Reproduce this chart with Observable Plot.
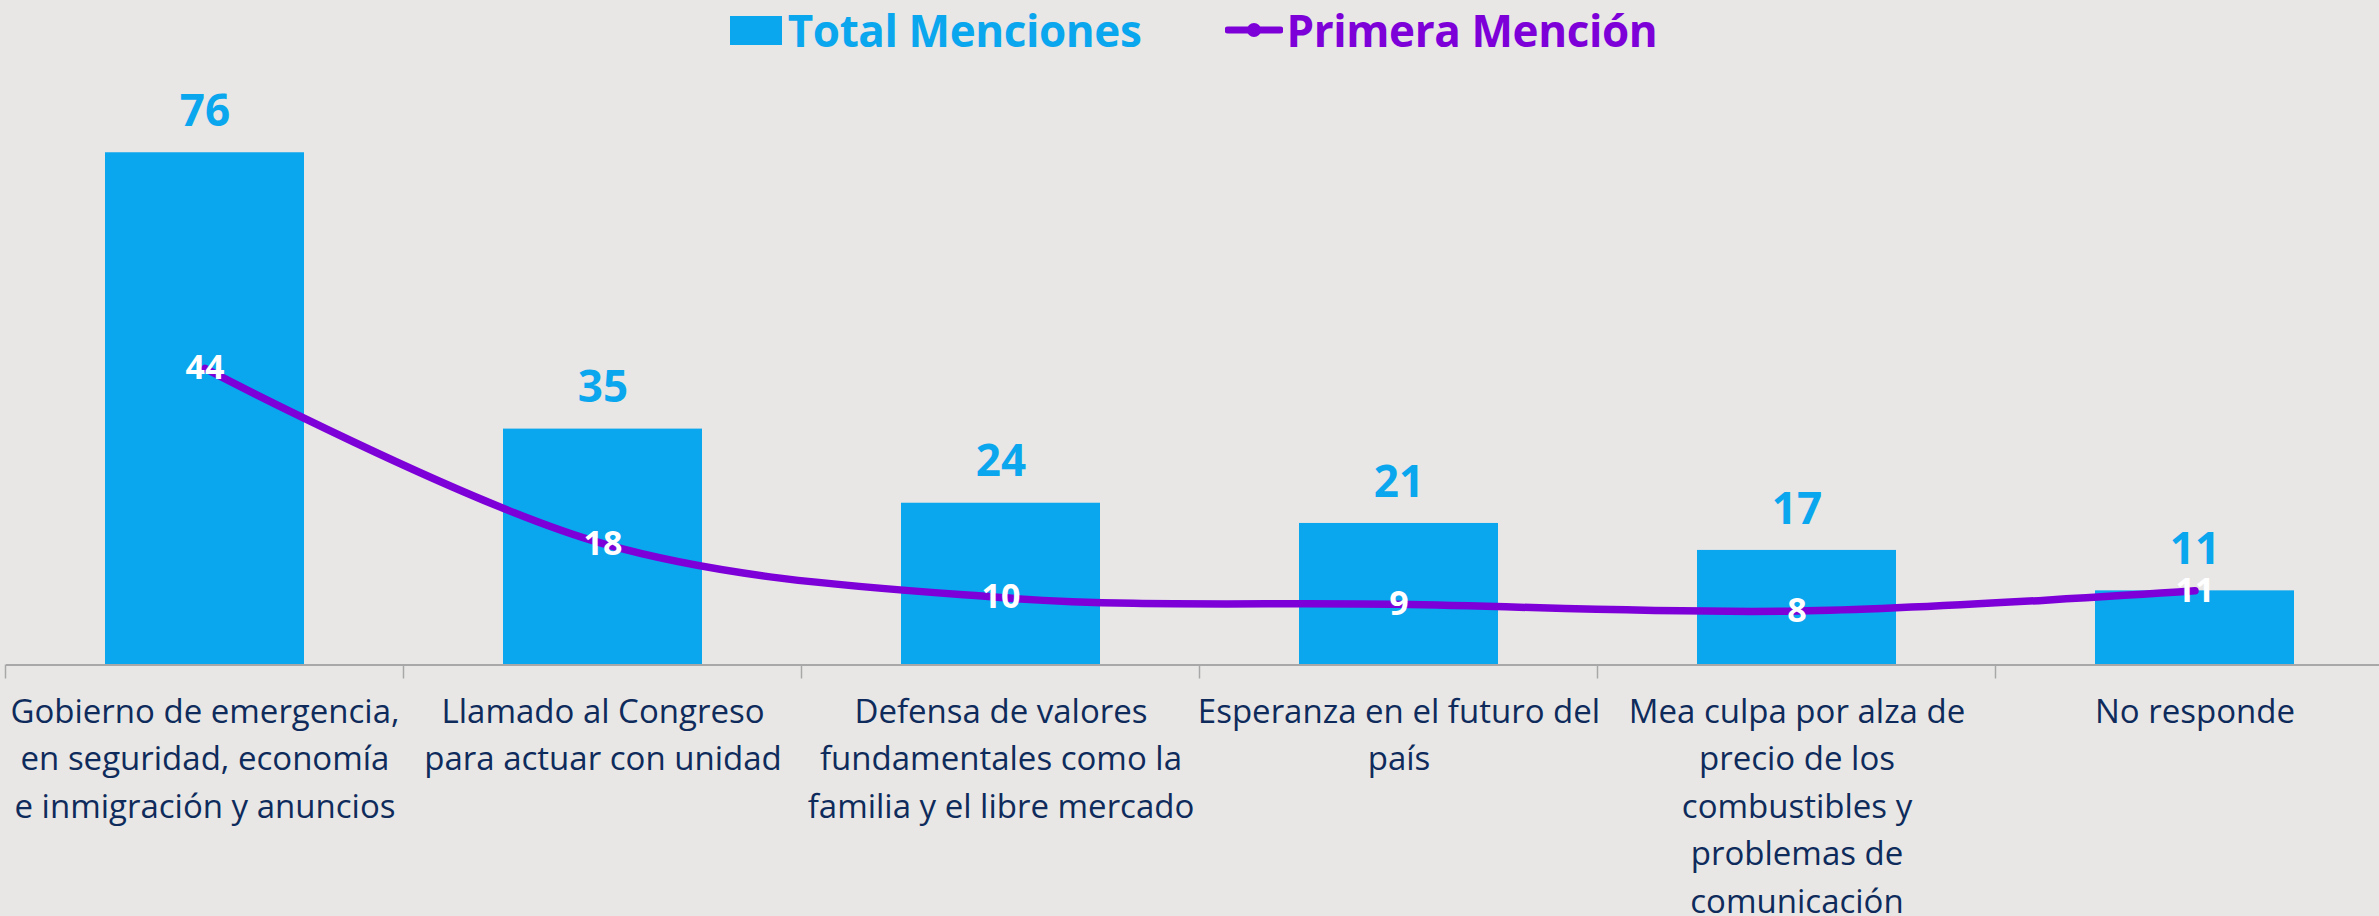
<!DOCTYPE html>
<html>
<head>
<meta charset="utf-8">
<script src="https://cdn.jsdelivr.net/npm/d3@7"></script>
<script src="https://cdn.jsdelivr.net/npm/@observablehq/plot@0.6"></script>
<style>
  html, body { margin: 0; padding: 0; background: #E8E7E5; }
  body { width: 2379px; height: 916px; overflow: hidden; font-family: "Open Sans", "Noto Sans", sans-serif; }
  #legend { height: 60px; display: flex; justify-content: center; align-items: center; gap: 84px; padding-left: 8px; box-sizing: border-box; }
  .item { display: flex; align-items: center; font-weight: 700; font-size: 44px; letter-spacing: -0.4px; }
  .item svg { display: block; }
</style>
</head>
<body>
<div id="legend"></div>
<div id="chart"></div>
<script>
const categories = [
  "Gobierno de emergencia,\nen seguridad, economía\ne inmigración y anuncios",
  "Llamado al Congreso\npara actuar con unidad",
  "Defensa de valores\nfundamentales como la\nfamilia y el libre mercado",
  "Esperanza en el futuro del\npaís",
  "Mea culpa por alza de\nprecio de los\ncombustibles y\nproblemas de\ncomunicación",
  "No responde"
];
const totalMenciones = [76, 35, 24, 21, 17, 11];
const primeraMencion = [44, 18, 10, 9, 8, 11];
const seriesNames = ["Total Menciones", "Primera Mención"];

const BLUE = "#0AA6EE";
const PURPLE = "#7D00D9";
const NAVY = "#0E2B5C";
const AXIS = "#A8A8A8";

const data = categories.map((c, i) => ({cat: c, total: totalMenciones[i], primera: primeraMencion[i]}));

// Legend
const legend = document.getElementById("legend");
legend.innerHTML = `
  <div class="item" style="color:${BLUE}">
    <svg width="52" height="29" style="margin-right:6px"><rect width="52" height="29" fill="${BLUE}"/></svg>${seriesNames[0]}
  </div>
  <div class="item" style="color:${PURPLE}">
    <svg width="58" height="20" style="margin-right:3px"><line x1="3" y1="10" x2="55" y2="10" stroke="${PURPLE}" stroke-width="7" stroke-linecap="round"/><circle cx="29" cy="10" r="7" fill="${PURPLE}"/></svg>${seriesNames[1]}
  </div>`;

function boundaryTicks(index, scales, values, dims) {
  const x = scales.x;
  const step = x.step();
  const bw = x.bandwidth();
  const y0 = scales.y(0);
  const g = d3.create("svg:g");
  const edges = categories.map(c => x(c) - (step - bw) / 2);
  edges.push(x(categories[categories.length - 1]) + bw + (step - bw) / 2);
  for (const e of edges) {
    g.append("line").attr("x1", e).attr("x2", e).attr("y1", y0).attr("y2", y0 + 14)
      .attr("stroke", AXIS).attr("stroke-width", 1.5);
  }
  return g.node();
}

const W = 2379, H = 856;
const base = 604.5, pxPerUnit = 6.74;

const chart = Plot.plot({
  width: W,
  height: H,
  marginLeft: 6,
  marginRight: 0,
  marginTop: 0,
  marginBottom: H - base,
  style: {background: "transparent", fontFamily: "'Open Sans', 'Noto Sans', sans-serif", overflow: "visible"},
  x: {domain: categories, range: [5, 2394], paddingInner: 0.5, paddingOuter: 0.25, axis: null, label: null},
  y: {domain: [0, 76], range: [base, base - 76 * pxPerUnit], axis: null},
  marks: [
    Plot.barY(data, {x: "cat", y: "total", fill: BLUE}),
    Plot.ruleY([0], {stroke: AXIS, strokeWidth: 2}),
    boundaryTicks,
    Plot.line(data, {x: "cat", y: "primera", curve: "catmull-rom", stroke: PURPLE, strokeWidth: 7.5, strokeLinecap: "round"}),
    Plot.text(data, {x: "cat", y: "total", text: d => String(d.total), dy: -41, lineAnchor: "middle", fill: BLUE, fontSize: 44, fontWeight: 700}),
    Plot.text(data, {x: "cat", y: "primera", text: d => String(d.primera), lineAnchor: "middle", fill: "white", fontSize: 34, fontWeight: 700}),
    Plot.axisX({tickSize: 0, tickPadding: 24, fontSize: 33, lineHeight: 1.44, color: NAVY, label: null, tickFormat: d => d})
  ]
});
document.getElementById("chart").appendChild(chart);
</script>
</body>
</html>
